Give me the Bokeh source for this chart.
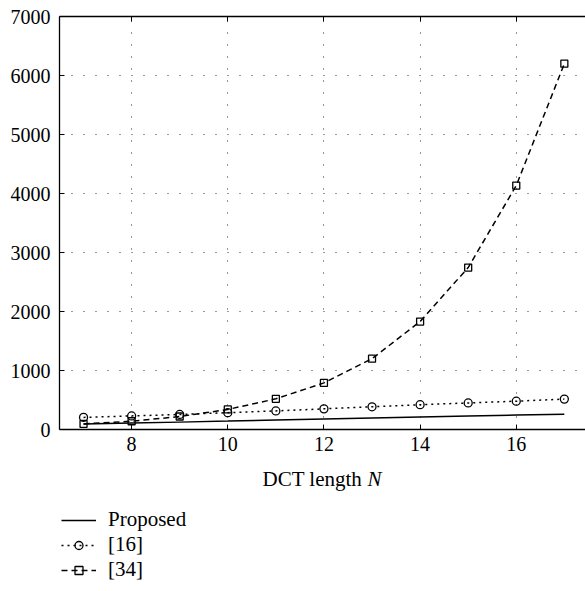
from bokeh.plotting import figure
from bokeh.models import Legend, LegendItem, LinearAxis, FixedTicker, Range1d, Label
from bokeh.layouts import column
from bokeh.embed import file_html
from bokeh.resources import INLINE

# data
N = [7, 8, 9, 10, 11, 12, 13, 14, 15, 16, 17]
proposed = [95, 110, 125, 142, 160, 178, 195, 212, 228, 245, 260]
ref16 = [205, 230, 255, 285, 315, 350, 385, 420, 450, 480, 515]
ref34 = [95, 140, 220, 340, 520, 790, 1200, 1830, 2745, 4135, 6200]
x_ticks = [8, 10, 12, 14, 16]
y_ticks = [0, 1000, 2000, 3000, 4000, 5000, 6000, 7000]
labels = ["Proposed", "[16]", "[34]"]
x_title = ("DCT length", "N")

FONT = "Liberation Serif"
FS = "20px"
FS2 = "21px"
W = 585
H1 = 462
H2 = 128
LEFT = 59

p = figure(width=W, height=H1, x_range=Range1d(6.5, 17.44), y_range=Range1d(0, 7000),
           output_backend="svg", toolbar_location=None,
           min_border_left=LEFT, min_border_right=0, min_border_top=16, min_border_bottom=33)
p.outline_line_color = None

for ax in (p.xaxis[0], p.yaxis[0]):
    ax.axis_line_color = "black"
    ax.axis_line_width = 1.3
    ax.major_tick_in = 5
    ax.major_tick_out = 0
    ax.minor_tick_line_color = None
    ax.major_tick_line_color = "black"
    ax.major_label_text_font = FONT
    ax.major_label_text_font_size = FS
    ax.major_label_text_color = "black"
p.yaxis[0].major_label_standoff = 9
p.xaxis[0].major_label_standoff = 7
p.xaxis[0].ticker = FixedTicker(ticks=x_ticks)
p.yaxis[0].ticker = FixedTicker(ticks=y_ticks)

# top border with inward ticks, no labels
top = LinearAxis(ticker=FixedTicker(ticks=x_ticks), major_label_text_font_size="1px",
                 major_label_text_color=None, major_label_standoff=0,
                 axis_line_color="black", axis_line_width=1.3,
                 major_tick_in=5, major_tick_out=0, minor_tick_line_color=None)
p.add_layout(top, "above")

p.xgrid[0].ticker = FixedTicker(ticks=x_ticks)
p.ygrid[0].ticker = FixedTicker(ticks=y_ticks[1:-1])
for g in (p.xgrid[0], p.ygrid[0]):
    g.grid_line_color = "#333333"
    g.grid_line_dash = "1 11"
    g.grid_line_width = 1

STY1 = dict(line_color="black", line_width=1.5)
STY2 = dict(line_color="black", line_width=1.5, line_dash="2 4")
STY3 = dict(line_color="black", line_width=1.5, line_dash="6 4")
M2 = dict(marker="circle", size=8, fill_color=None, line_color="black", line_width=1.3)
M3 = dict(marker="square", size=7, fill_color=None, line_color="black", line_width=1.3)

p.line(N, proposed, **STY1)
p.line(N, ref16, **STY2)
p.scatter(N, ref16, **M2)
p.line(N, ref34, **STY3)
p.scatter(N, ref34, **M3)

# lower panel: axis title and legend (its frame is aligned with the main frame)
q = figure(width=W, height=H2, x_range=Range1d(0, W - LEFT), y_range=Range1d(0, H2),
           output_backend="svg", toolbar_location=None,
           min_border_left=LEFT, min_border_right=0, min_border_top=0, min_border_bottom=0)
q.axis.visible = False
q.grid.visible = False
q.outline_line_color = None
q.extra_y_ranges = {"off": Range1d(100000, 100001)}

q.add_layout(Label(x=203, y=H2 - 16, text=x_title[0], text_font=FONT, text_font_size=FS2,
                   text_baseline="middle", text_align="left", text_color="black"))
q.add_layout(Label(x=308, y=H2 - 16, text=x_title[1], text_font=FONT, text_font_size=FS2,
                   text_font_style="italic", text_baseline="middle", text_align="left",
                   text_color="black"))

l1 = q.line(N, proposed, y_range_name="off", **STY1)
l2 = q.line(N, ref16, y_range_name="off", **STY2)
m2 = q.scatter(N, ref16, y_range_name="off", **M2)
l3 = q.line(N, ref34, y_range_name="off", **STY3)
m3 = q.scatter(N, ref34, y_range_name="off", **M3)

legend = Legend(items=[LegendItem(label=labels[0], renderers=[l1]),
                       LegendItem(label=labels[1], renderers=[l2, m2]),
                       LegendItem(label=labels[2], renderers=[l3, m3])],
                location=(2, 8), orientation="vertical",
                border_line_color=None, background_fill_alpha=0,
                glyph_width=35, glyph_height=20, label_height=20, label_standoff=12,
                spacing=0, padding=0, margin=0,
                label_text_font=FONT, label_text_font_size=FS2, label_text_color="black")
q.add_layout(legend, "center")

open("out.html", "w").write(file_html(column(p, q, spacing=0), INLINE))
